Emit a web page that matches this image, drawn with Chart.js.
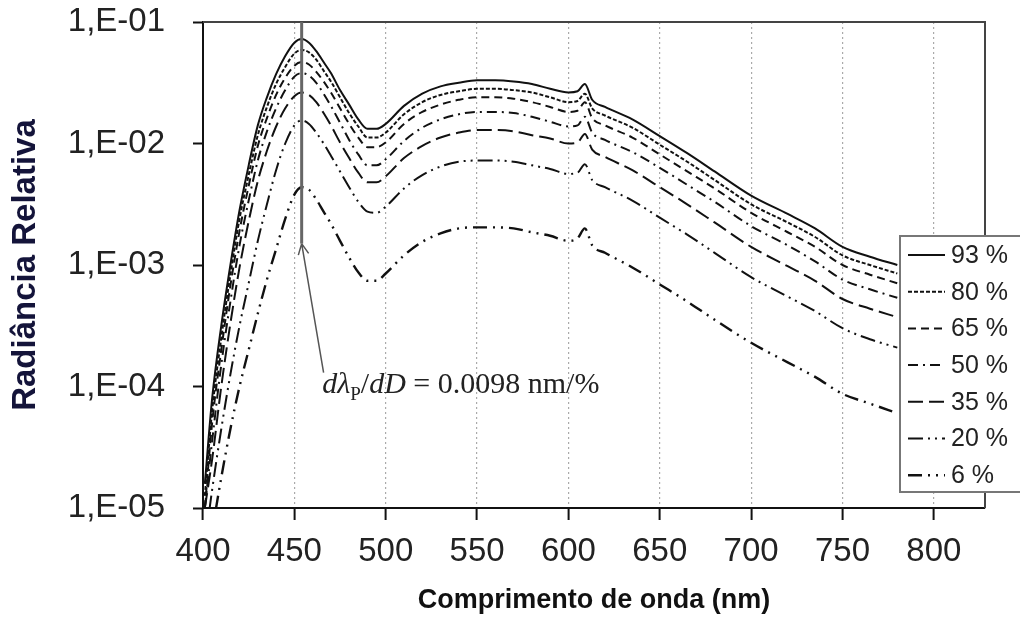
<!DOCTYPE html>
<html lang="pt">
<head>
<meta charset="UTF-8" />
<title>Radiância relativa</title>
<script src="https://cdn.jsdelivr.net/npm/chart.js"></script>
<style>
  body { margin: 0; background: #fff; }
  #wrap { width: 1020px; height: 634px; }
</style>
</head>
<body>
<div id="wrap"><canvas id="chart" width="1020" height="634"></canvas></div>

<script>
  // wavelength samples (nm)
  const wavelengths = [401, 405, 410, 415, 420, 425, 430, 435, 440, 445,
    450, 454, 458, 462, 466, 470, 475, 480, 485, 490,
    495, 500, 510, 520, 530, 540, 550, 560, 570, 580,
    590, 600, 605, 609, 613, 620, 635, 650, 665, 680,
    700, 720, 735, 750, 765, 780];

  const r93 = [1.58e-5, 7.94e-5, 3.16e-4, 1.0e-3, 2.82e-3, 6.61e-3, 1.41e-2, 2.40e-2, 3.72e-2, 5.25e-2,
    6.76e-2, 7.24e-2, 6.76e-2, 5.75e-2, 4.68e-2, 3.80e-2, 2.75e-2, 2.09e-2, 1.58e-2, 1.32e-2,
    1.32e-2, 1.45e-2, 2.04e-2, 2.57e-2, 2.95e-2, 3.16e-2, 3.31e-2, 3.31e-2, 3.24e-2, 3.09e-2,
    2.82e-2, 2.63e-2, 2.69e-2, 3.09e-2, 2.29e-2, 2.00e-2, 1.58e-2, 1.15e-2, 8.32e-3, 5.89e-3,
    3.72e-3, 2.63e-3, 2.00e-3, 1.41e-3, 1.17e-3, 1.00e-3];
  const r80 = [1.26e-5, 6.31e-5, 2.51e-4, 8.32e-4, 2.40e-3, 5.50e-3, 1.17e-2, 2.00e-2, 3.09e-2, 4.27e-2,
    5.50e-2, 5.89e-2, 5.62e-2, 4.90e-2, 3.98e-2, 3.24e-2, 2.40e-2, 1.78e-2, 1.38e-2, 1.12e-2,
    1.12e-2, 1.23e-2, 1.74e-2, 2.19e-2, 2.51e-2, 2.69e-2, 2.82e-2, 2.82e-2, 2.75e-2, 2.63e-2,
    2.40e-2, 2.19e-2, 2.24e-2, 2.57e-2, 1.95e-2, 1.70e-2, 1.35e-2, 9.77e-3, 7.08e-3, 5.01e-3,
    3.16e-3, 2.24e-3, 1.70e-3, 1.20e-3, 1.00e-3, 8.51e-4];
  const r65 = [1.00e-5, 5.01e-5, 2.00e-4, 6.76e-4, 1.91e-3, 4.47e-3, 9.55e-3, 1.62e-2, 2.51e-2, 3.47e-2,
    4.37e-2, 4.68e-2, 4.47e-2, 3.89e-2, 3.24e-2, 2.63e-2, 1.95e-2, 1.45e-2, 1.12e-2, 9.33e-3,
    9.33e-3, 1.02e-2, 1.45e-2, 1.82e-2, 2.09e-2, 2.29e-2, 2.40e-2, 2.40e-2, 2.34e-2, 2.19e-2,
    2.00e-2, 1.82e-2, 1.86e-2, 2.19e-2, 1.62e-2, 1.41e-2, 1.12e-2, 8.13e-3, 5.89e-3, 4.27e-3,
    2.69e-3, 1.86e-3, 1.41e-3, 1.00e-3, 8.32e-4, 7.08e-4];
  const r50 = [1.00e-5, 3.55e-5, 1.51e-4, 5.01e-4, 1.45e-3, 3.39e-3, 7.24e-3, 1.26e-2, 1.95e-2, 2.75e-2,
    3.55e-2, 3.80e-2, 3.63e-2, 3.16e-2, 2.57e-2, 2.04e-2, 1.48e-2, 1.07e-2, 8.13e-3, 6.61e-3,
    6.61e-3, 7.41e-3, 1.05e-2, 1.35e-2, 1.58e-2, 1.74e-2, 1.82e-2, 1.82e-2, 1.78e-2, 1.66e-2,
    1.51e-2, 1.38e-2, 1.41e-2, 1.66e-2, 1.23e-2, 1.07e-2, 8.51e-3, 6.31e-3, 4.57e-3, 3.31e-3,
    2.09e-3, 1.45e-3, 1.07e-3, 7.59e-4, 6.31e-4, 5.37e-4];
  const r35 = [1.00e-5, 2.51e-5, 1.00e-4, 3.31e-4, 9.55e-4, 2.29e-3, 4.90e-3, 8.71e-3, 1.38e-2, 1.95e-2,
    2.45e-2, 2.63e-2, 2.51e-2, 2.19e-2, 1.78e-2, 1.41e-2, 1.02e-2, 7.59e-3, 5.75e-3, 4.79e-3,
    4.79e-3, 5.37e-3, 7.59e-3, 9.55e-3, 1.12e-2, 1.23e-2, 1.29e-2, 1.29e-2, 1.26e-2, 1.17e-2,
    1.10e-2, 1.00e-2, 1.02e-2, 1.20e-2, 8.91e-3, 7.76e-3, 6.03e-3, 4.37e-3, 3.16e-3, 2.24e-3,
    1.41e-3, 9.77e-4, 7.41e-4, 5.25e-4, 4.37e-4, 3.72e-4];
  const r20 = [5.01e-6, 1.41e-5, 4.47e-5, 1.26e-4, 3.16e-4, 7.08e-4, 1.58e-3, 3.16e-3, 6.03e-3, 1.00e-2,
    1.41e-2, 1.55e-2, 1.45e-2, 1.23e-2, 1.00e-2, 7.94e-3, 5.89e-3, 4.37e-3, 3.31e-3, 2.75e-3,
    2.69e-3, 3.02e-3, 4.27e-3, 5.50e-3, 6.46e-3, 7.08e-3, 7.24e-3, 7.24e-3, 7.08e-3, 6.61e-3,
    6.17e-3, 5.62e-3, 5.75e-3, 6.76e-3, 5.01e-3, 4.37e-3, 3.39e-3, 2.45e-3, 1.78e-3, 1.26e-3,
    7.94e-4, 5.50e-4, 4.17e-4, 3.02e-4, 2.45e-4, 2.09e-4];
  const r6 = [2.51e-6, 6.31e-6, 1.78e-5, 4.47e-5, 1.00e-4, 2.00e-4, 3.98e-4, 7.59e-4, 1.35e-3, 2.40e-3,
    3.80e-3, 4.37e-3, 4.17e-3, 3.47e-3, 2.75e-3, 2.19e-3, 1.58e-3, 1.15e-3, 8.71e-4, 7.41e-4,
    7.41e-4, 8.51e-4, 1.20e-3, 1.55e-3, 1.82e-3, 2.00e-3, 2.04e-3, 2.04e-3, 2.00e-3, 1.86e-3,
    1.74e-3, 1.58e-3, 1.66e-3, 2.00e-3, 1.45e-3, 1.26e-3, 9.55e-4, 6.92e-4, 5.01e-4, 3.55e-4,
    2.29e-4, 1.58e-4, 1.20e-4, 8.71e-5, 7.24e-5, 6.03e-5];

  const seriesLabels = ["93 %", "80 %", "65 %", "50 %", "35 %", "20 %", "6 %"];
  const seriesValues = [r93, r80, r65, r50, r35, r20, r6];

  const xTicks = [400, 450, 500, 550, 600, 650, 700, 750, 800];
  const yTicks = [1e-5, 1e-4, 1e-3, 1e-2, 1e-1];
  const yTickLabels = ["1,E-05", "1,E-04", "1,E-03", "1,E-02", "1,E-01"];

  // annotation: peak marker and slope note
  const peakWavelength = 454;
  const markerBottom = 1.5e-3;
  const arrowFrom = [466, 1.3e-4];
  const noteAt = [465.3, 8.9e-5];

  // line styles, one per series
  const dashes = [[], [4, 2], [8, 5], [10, 5, 2, 5], [15, 6], [15, 5, 2, 5, 2, 5], [14, 6, 2, 6, 2, 6]];
  const widths = [2, 2, 2, 2, 2, 2, 2.4];

  const sans = "'Liberation Sans', Arial, sans-serif";
  const serif = "'Liberation Serif', 'Times New Roman', serif";

  const datasets = seriesValues.map((vals, i) => ({
    label: seriesLabels[i],
    data: wavelengths.map((w, j) => ({ x: w, y: vals[j] })),
    borderColor: "#111",
    borderWidth: widths[i],
    borderDash: dashes[i],
    pointRadius: 0,
    cubicInterpolationMode: "monotone",
    fill: false,
  }));

  const decorations = {
    id: "decorations",
    afterDatasetsDraw(chart) {
      const { ctx, chartArea: a, scales: { x, y } } = chart;
      ctx.save();

      // frame top and right
      ctx.strokeStyle = "#444";
      ctx.lineWidth = 2;
      ctx.beginPath();
      ctx.moveTo(a.left, a.top);
      ctx.lineTo(a.right, a.top);
      ctx.lineTo(a.right, a.bottom);
      ctx.stroke();

      // vertical peak marker
      const px = x.getPixelForValue(peakWavelength);
      const hy = y.getPixelForValue(markerBottom);
      ctx.strokeStyle = "#666";
      ctx.lineWidth = 3;
      ctx.beginPath();
      ctx.moveTo(px, a.top);
      ctx.lineTo(px, hy);
      ctx.stroke();

      // arrow from note to marker
      const tx = x.getPixelForValue(arrowFrom[0]);
      const ty = y.getPixelForValue(arrowFrom[1]);
      ctx.strokeStyle = "#555";
      ctx.lineWidth = 1.5;
      ctx.beginPath();
      ctx.moveTo(tx, ty);
      ctx.lineTo(px, hy);
      const ang = Math.atan2(hy - ty, px - tx);
      for (const s of [-1, 1]) {
        ctx.moveTo(px, hy);
        ctx.lineTo(px - 12 * Math.cos(ang + s * 0.45), hy - 12 * Math.sin(ang + s * 0.45));
      }
      ctx.stroke();

      // note text
      let cx = x.getPixelForValue(noteAt[0]);
      const by = y.getPixelForValue(noteAt[1]);
      const parts = [
        ["d", "italic 30px " + serif, 0],
        ["λ", "italic 30px " + serif, 0],
        ["P", "19px " + serif, 7],
        ["/", "30px " + serif, 0],
        ["dD", "italic 30px " + serif, 0],
        [" = 0.0098 nm/%", "30px " + serif, 0],
      ];
      ctx.fillStyle = "#222";
      ctx.textBaseline = "alphabetic";
      ctx.textAlign = "left";
      for (const [t, f, dy] of parts) {
        ctx.font = f;
        ctx.fillText(t, cx, by + dy);
        cx += ctx.measureText(t).width;
      }

      // legend box
      const lx = 900, ly = 236, lh = 256;
      ctx.fillStyle = "#fff";
      ctx.fillRect(lx, ly, 140, lh);
      ctx.strokeStyle = "#777";
      ctx.lineWidth = 2;
      ctx.strokeRect(lx, ly, 140, lh);
      ctx.font = "25px " + sans;
      ctx.textBaseline = "middle";
      chart.data.datasets.forEach((ds, i) => {
        const cy = ly + 19 + i * 36.7;
        ctx.strokeStyle = "#111";
        ctx.lineWidth = ds.borderWidth;
        ctx.setLineDash(ds.borderDash);
        ctx.beginPath();
        ctx.moveTo(908, cy);
        ctx.lineTo(945, cy);
        ctx.stroke();
        ctx.setLineDash([]);
        ctx.fillStyle = "#222";
        ctx.fillText(ds.label, 951, cy + 1);
      });

      ctx.restore();
    },
  };

  new Chart(document.getElementById("chart"), {
    type: "line",
    data: { datasets },
    plugins: [decorations],
    options: {
      responsive: false,
      animation: false,
      devicePixelRatio: 1,
      layout: { padding: { left: 0, top: 22, right: 35, bottom: 0 } },
      plugins: { legend: { display: false }, tooltip: { enabled: false } },
      scales: {
        x: {
          type: "linear",
          min: 400,
          max: 828,
          afterBuildTicks: (s) => { s.ticks = xTicks.map((v) => ({ value: v })); },
          afterFit: (s) => { s.height = 126; s.paddingLeft = 0; s.paddingRight = 0; },
          ticks: { autoSkip: false, maxRotation: 0, padding: 12, color: "#222", font: { family: sans, size: 33 } },
          grid: { color: "#aaa", lineWidth: 1.2, tickColor: "#111", tickWidth: 2, tickLength: 12 },
          border: { display: true, color: "#111", width: 2, dash: [2, 3] },
          title: {
            display: true,
            text: "Comprimento de onda (nm)",
            color: "#111",
            font: { family: sans, size: 27, weight: "bold" },
            padding: { top: 0, bottom: 17 },
          },
        },
        y: {
          type: "logarithmic",
          min: 1e-5,
          max: 1e-1,
          afterBuildTicks: (s) => { s.ticks = yTicks.map((v) => ({ value: v })); },
          afterFit: (s) => { s.width = 203; s.paddingTop = 0; s.paddingBottom = 0; },
          ticks: {
            autoSkip: false,
            padding: 28,
            color: "#222",
            font: { family: sans, size: 33 },
            callback: (v, i) => yTickLabels[i],
          },
          grid: { drawOnChartArea: false, drawTicks: true, tickLength: 10, tickColor: "#111", tickWidth: 2 },
          border: { display: true, color: "#111", width: 2 },
          title: {
            display: true,
            text: "Radiância Relativa",
            color: "#14143a",
            font: { family: sans, size: 33, weight: "bold" },
            padding: { top: 6, bottom: 0 },
          },
        },
      },
    },
  });
</script>
</body>
</html>
